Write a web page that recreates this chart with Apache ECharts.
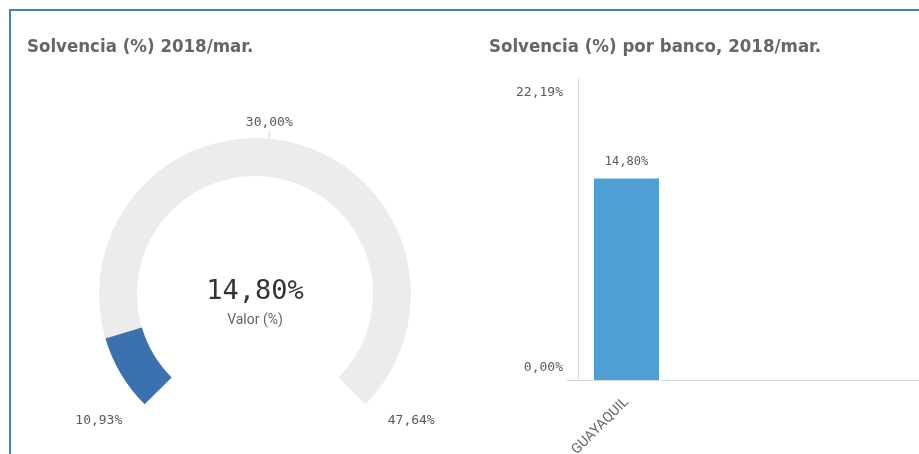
<!DOCTYPE html>
<html>
<head>
<meta charset="utf-8">
<script src="https://cdn.jsdelivr.net/npm/echarts@6/dist/echarts.min.js"></script>
<style>
html,body{margin:0;padding:0;background:#fff;}
#main{width:919px;height:454px;}
</style>
</head>
<body>
<div id="main"></div>
<script>
// ---- data ----
const gaugeMin = 10.93;
const gaugeMax = 47.64;
const gaugeMid = 30.00;
const gaugeValue = 14.80;
const gaugeName = 'Valor (%)';

const banks = ['GUAYAQUIL'];
const bankValues = [14.80];
const yTicks = [0, 22.19];

// ---- helpers ----
const fmt = v => v.toFixed(2).replace('.', ',') + '%';
const TITLE_FONT = '"Liberation Sans Narrow","DejaVu Sans Condensed","Roboto",sans-serif';
const NUM_FONT = '"DejaVu Sans Mono","Liberation Mono",monospace';

const G = { cx: 255, cy: 294, r: 156, start: 225, end: -45, width: 38 };
function angleOf(v) {
  return G.start - (v - gaugeMin) / (gaugeMax - gaugeMin) * (G.start - G.end);
}
function polar(angDeg, r) {
  const a = angDeg * Math.PI / 180;
  return [G.cx + r * Math.cos(a), G.cy - r * Math.sin(a)];
}

const chart = echarts.init(document.getElementById('main'));

const midAng = angleOf(gaugeMid);
const midTop = polar(midAng, G.r);
const minLbl = polar(angleOf(gaugeMin) - 6, 201);
const maxLbl = polar(angleOf(gaugeMax) + 6, 201);

const labelStyle = { fill: '#595959', font: '13px ' + NUM_FONT };

chart.setOption({
  animation: false,
  title: [
    { text: 'Solvencia (%) 2018/mar.', left: 22, top: 33,
      textStyle: { fontFamily: TITLE_FONT, fontWeight: 'bold', fontSize: 18.5, color: '#666666' } },
    { text: 'Solvencia (%) por banco, 2018/mar.', left: 484, top: 33,
      textStyle: { fontFamily: TITLE_FONT, fontWeight: 'bold', fontSize: 18.5, color: '#666666' } }
  ],
  graphic: [
    { type: 'rect', shape: { x: 10, y: 10, width: 1000, height: 1000 },
      style: { fill: 'none', stroke: '#4a7ebb', lineWidth: 2 }, silent: true },
    { type: 'line', shape: { x1: midTop[0], y1: midTop[1] - 1, x2: midTop[0], y2: midTop[1] - 7 },
      style: { stroke: '#d0d0d0', lineWidth: 1 } },
    { type: 'text', x: midTop[0], y: midTop[1] - 10,
      style: Object.assign({ text: fmt(gaugeMid), textAlign: 'center', textVerticalAlign: 'bottom' }, labelStyle) },
    { type: 'text', x: minLbl[0], y: minLbl[1],
      style: Object.assign({ text: fmt(gaugeMin), textAlign: 'center', textVerticalAlign: 'middle' }, labelStyle) },
    { type: 'text', x: maxLbl[0], y: maxLbl[1],
      style: Object.assign({ text: fmt(gaugeMax), textAlign: 'center', textVerticalAlign: 'middle' }, labelStyle) }
  ],
  grid: [
    { left: 578, width: 97, top: 78, bottom: 74, containLabel: false, outerBoundsMode: 'none' },
    { left: 567, right: 0, top: 78, bottom: 74, outerBoundsMode: 'none' },
    { left: 578, right: 0, top: 78, bottom: 74, outerBoundsMode: 'none' }
  ],
  xAxis: [
    { type: 'category', gridIndex: 0, data: banks,
      axisLine: { show: false }, axisTick: { show: false },
      axisLabel: { rotate: 45, margin: 20, fontSize: 14, color: '#666666', fontFamily: 'Roboto, sans-serif' } },
    { type: 'value', gridIndex: 1, min: 0, max: 1, position: 'bottom',
      axisLine: { show: true, lineStyle: { color: '#cfcfcf', width: 1 } },
      axisTick: { show: false }, axisLabel: { show: false }, splitLine: { show: false } },
    { type: 'value', gridIndex: 2, min: 0, max: 1, position: 'top',
      axisLine: { show: true, lineStyle: { color: '#d9d9d9', width: 1 } },
      axisTick: { show: false }, axisLabel: { show: false }, splitLine: { show: false } }
  ],
  yAxis: [
    { type: 'value', gridIndex: 0, min: yTicks[0], max: yTicks[1], interval: yTicks[1] - yTicks[0],
      axisLine: { show: true, lineStyle: { color: '#d9d9d9', width: 1 } },
      axisTick: { show: false }, splitLine: { show: false },
      axisLabel: {
        margin: 15, color: '#595959', fontSize: 13, fontFamily: NUM_FONT,
        formatter: v => (v === yTicks[0] ? '{b|' + fmt(v) + '}' : '{t|' + fmt(v) + '}'),
        rich: {
          t: { padding: [30, 0, 0, 0], fontSize: 13, color: '#595959', fontFamily: NUM_FONT },
          b: { padding: [0, 0, 24, 0], fontSize: 13, color: '#595959', fontFamily: NUM_FONT }
        }
      } },
    { type: 'value', gridIndex: 1, show: false, min: 0, max: 1 },
    { type: 'value', gridIndex: 2, show: false, min: 0, max: 1 }
  ],
  series: [
    {
      type: 'gauge',
      center: [G.cx, G.cy], radius: G.r,
      startAngle: G.start, endAngle: G.end,
      min: gaugeMin, max: gaugeMax,
      axisLine: { lineStyle: { width: G.width, color: [[1, '#ececec']] } },
      progress: { show: true, width: G.width, itemStyle: { color: '#3a71ae' } },
      pointer: { show: false }, anchor: { show: false },
      axisTick: { show: false }, splitLine: { show: false }, axisLabel: { show: false },
      title: { offsetCenter: [0, 26], fontSize: 14, color: '#666666', fontFamily: 'Roboto, sans-serif' },
      detail: { offsetCenter: [0, -2], fontSize: 27, fontWeight: 'normal', color: '#333333', fontFamily: NUM_FONT,
        formatter: v => fmt(v) },
      data: [{ value: gaugeValue, name: gaugeName }]
    },
    {
      type: 'bar', xAxisIndex: 0, yAxisIndex: 0,
      data: bankValues, barWidth: 65,
      itemStyle: { color: '#4d9fd6' },
      label: { show: true, position: 'top', distance: 11, formatter: p => fmt(p.value),
        fontSize: 12, color: '#595959', fontFamily: NUM_FONT }
    }
  ]
});
</script>
</body>
</html>
